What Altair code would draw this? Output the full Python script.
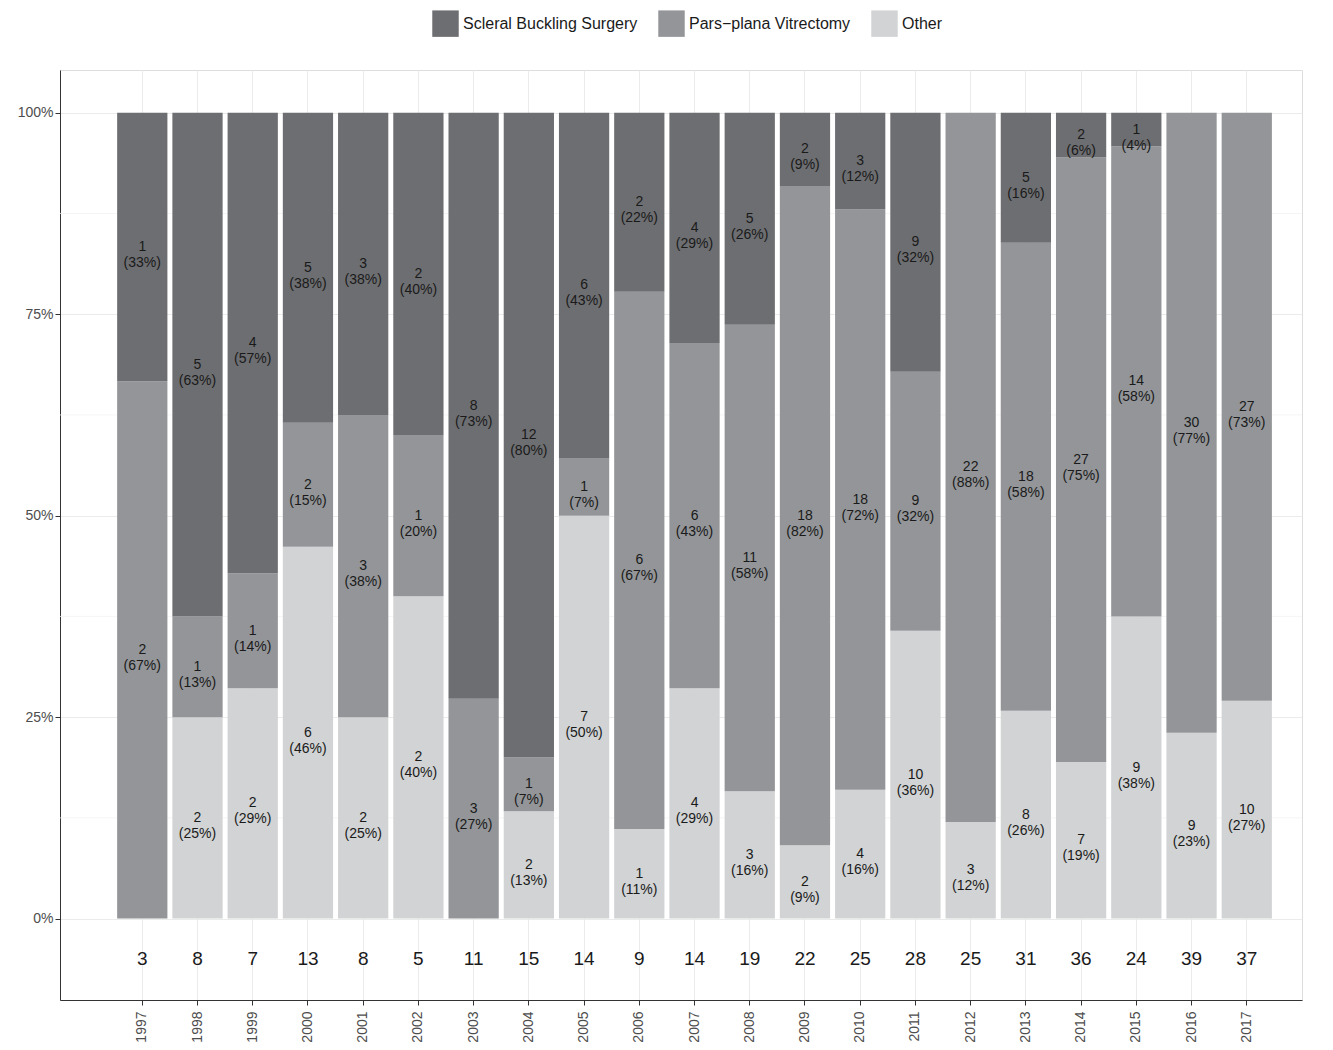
import altair as alt
import pandas as pd

years = [str(y) for y in range(1997, 2018)]
sbs = [1, 5, 4, 5, 3, 2, 8, 12, 6, 2, 4, 5, 2, 3, 9, 0, 5, 2, 1, 0, 0]
ppv = [2, 1, 1, 2, 3, 1, 3, 1, 1, 6, 6, 11, 18, 18, 9, 22, 18, 27, 14, 30, 27]
other = [0, 2, 2, 6, 2, 2, 0, 2, 7, 1, 4, 3, 2, 4, 10, 3, 8, 7, 9, 9, 10]
groups = ["Scleral Buckling Surgery", "Pars\u2212plana Vitrectomy", "Other"]
colors = ["#6d6e71", "#939598", "#d1d3d4"]

rows = []
for i, yr in enumerate(years):
    total = sbs[i] + ppv[i] + other[i]
    base = 0.0
    # stack from bottom: Other, PPV, SBS
    for g, n, o in [(groups[2], other[i], 0), (groups[1], ppv[i], 1), (groups[0], sbs[i], 2)]:
        f = n / total
        if n > 0:
            pct = int(f * 100 + 0.5)
            rows.append(dict(year=yr, group=g, n=n, lo=base, hi=base + f, mid=base + f / 2,
                             order=o, label=f"{n}\n({pct}%)"))
        base += f
df = pd.DataFrame(rows)
totals = pd.DataFrame({"year": years, "total": [a + b + c for a, b, c in zip(sbs, ppv, other)], "y": -0.05})
minor = pd.DataFrame({"v": [0.125, 0.375, 0.625, 0.875]})

ydom = alt.Scale(domain=[-0.101, 1.053], nice=False, zero=False)
xsc = alt.Scale(domain=years, paddingInner=0.09, paddingOuter=0.79, align=0.655)

minor_grid = alt.Chart(minor).mark_rule(color="#f2f2f2", strokeWidth=0.8).encode(
    y=alt.Y("v:Q", scale=ydom))

bars = alt.Chart(df).mark_bar().encode(
    x=alt.X("year:N", scale=xsc, title=None,
            axis=alt.Axis(labelAngle=-90, labelFontSize=14, labelColor="#4d4d4d", grid=True,
                          gridColor="#ebebeb", tickColor="#333", domainColor="#333", labelPadding=6)),
    y=alt.Y("lo:Q", scale=ydom, title=None,
            axis=alt.Axis(values=[0, 0.25, 0.5, 0.75, 1], format=".0%", labelFontSize=14,
                          labelColor="#4d4d4d", gridColor="#ebebeb", tickColor="#333", domainColor="#333")),
    y2="hi:Q",
    color=alt.Color("group:N", scale=alt.Scale(domain=groups, range=colors),
                    legend=alt.Legend(title=None, orient="none", direction="horizontal",
                                      legendX=372, legendY=-60,
                                      symbolType="square", symbolSize=700, symbolStrokeWidth=0,
                                      labelFontSize=16, columnPadding=20, labelLimit=0,
                                      labelColor="#1a1a1a")),
    order="order:Q",
)

labels = alt.Chart(df).mark_text(fontSize=14, lineBreak="\n", color="#1a1a1a", baseline="middle").encode(
    x=alt.X("year:N", scale=xsc), y=alt.Y("mid:Q", scale=ydom), text="label:N")

tot = alt.Chart(totals).mark_text(fontSize=19, color="#1a1a1a").encode(
    x=alt.X("year:N", scale=xsc), y=alt.Y("y:Q", scale=ydom), text="total:Q")

chart = (minor_grid + bars + labels + tot).properties(width=1242, height=930).configure_view(
    stroke="#333", strokeWidth=1).configure(font="Liberation Sans", padding={"left": 9, "top": 2, "right": 10, "bottom": 2})

chart.save("out.html", embed_options={"renderer": "svg", "actions": False})
